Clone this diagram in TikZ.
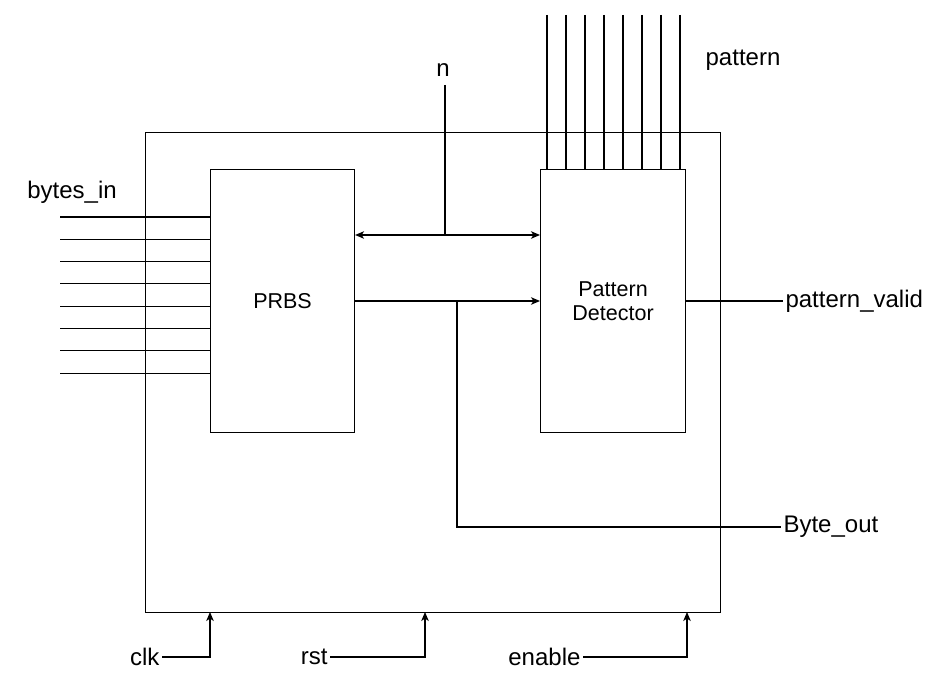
\documentclass[tikz,border=0pt]{standalone}
\usepackage{fontspec}
\setmainfont{Liberation Sans}
\usetikzlibrary{arrows.meta}
\begin{document}
\begin{tikzpicture}[x=1pt,y=-1pt,line width=1.1pt,
  >={Stealth[length=9pt,width=7.5pt,inset=2.5pt]},
  blk/.style={draw,anchor=north west,inner sep=0pt,align=center,font=\fontsize{21.5}{25}\selectfont},
  lbl/.style={inner sep=2pt,font=\fontsize{24}{28}\selectfont}]
\useasboundingbox (0,0) rectangle (929,674);
% blocks
\node[blk,minimum width=575pt,minimum height=480pt] (outer) at (145,132) {};
\node[blk,minimum width=144pt,minimum height=263pt] (prbs) at (210,169) {PRBS};
\node[blk,minimum width=145pt,minimum height=263pt] (pd) at (540,169) {Pattern\\[-1pt]Detector};
% labels
\node[lbl] (bytesin) at (72,192) {bytes\_in};
\node[lbl] (nlab) at (443,70) {n};
\node[lbl] (patlab) at (743,60) {pattern};
\node[lbl,anchor=west] (pv) at (783,301) {pattern\_valid};
\node[lbl,anchor=west] (bo) at (781,527) {Byte\_out};
\node[lbl,anchor=east] (clk) at (162,657) {clk};
\node[lbl,anchor=east] (rst) at (330,657) {rst};
\node[lbl,anchor=east] (en) at (583,657) {enable};
% bytes_in bus
\foreach \i in {0,...,7}{
  \coordinate (bi\i) at (60,{217+22.3*\i});
  \draw (bi\i) -- (bi\i -| prbs.west);
}
% pattern bus
\foreach \i in {0,...,7}{
  \coordinate (pt\i) at ({547+19*\i},15);
  \draw (pt\i) -- (pt\i |- pd.north);
}
% n
\coordinate (ntop) at (445,85);
\coordinate (nj) at (445,235);
\draw[<->] (prbs.east |- nj) -- (pd.west |- nj);
\draw (ntop) -- (nj);
% data path
\coordinate (br) at (457,301);
\draw[->] (prbs.east |- br) -- (pd.west |- br);
\draw (br) |- (bo.west);
% pattern_valid
\draw (pd.east |- pv.west) -- (pv.west);
% control inputs
\coordinate (ck) at (210,612);
\coordinate (rs) at (425,612);
\coordinate (ek) at (687,612);
\draw[->] (clk.east) -| (ck);
\draw[->] (rst.east) -| (rs);
\draw[->] (en.east) -| (ek);
\end{tikzpicture}
\end{document}
